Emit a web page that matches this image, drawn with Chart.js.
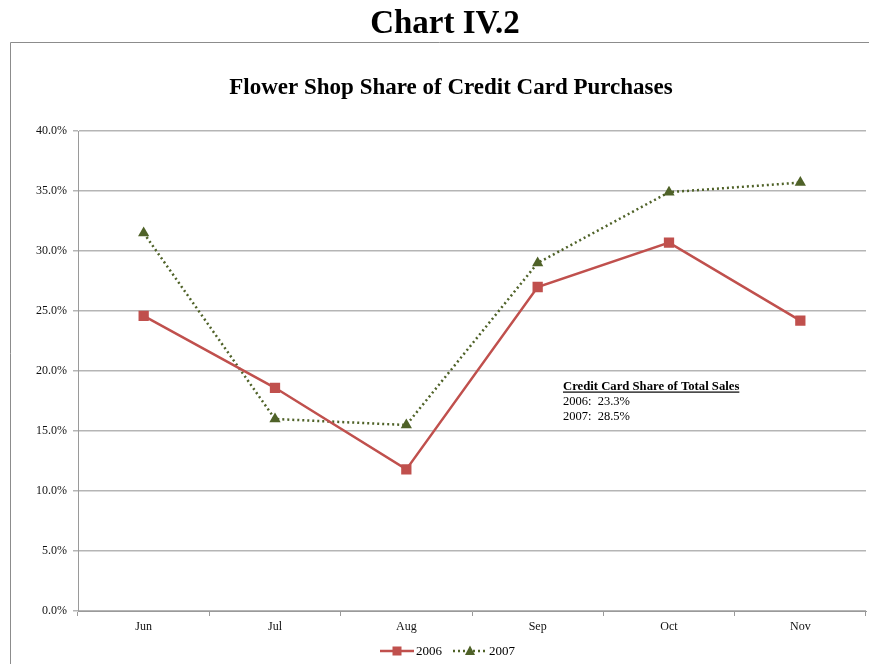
<!DOCTYPE html>
<html>
<head>
<meta charset="utf-8">
<script src="https://cdn.jsdelivr.net/npm/chart.js@4.4.1/dist/chart.umd.min.js"></script>
<style>
  html, body { margin: 0; padding: 0; background: #fff; overflow: hidden; }
  #wrap { position: relative; width: 869px; height: 664px; }
  canvas { display: block; }
</style>
</head>
<body>
<div id="wrap"><canvas id="c" width="869" height="664"></canvas></div>
<script>
// Monthly share of credit card purchases going to flower shops (%)
const months = ['Jun', 'Jul', 'Aug', 'Sep', 'Oct', 'Nov'];
const share2006 = [24.6, 18.6, 11.8, 27.0, 30.7, 24.2];
const share2007 = [31.5, 16.0, 15.5, 29.0, 34.9, 35.7];
const yTicks = [0, 5, 10, 15, 20, 25, 30, 35, 40];
const noteTitle = 'Credit Card Share of Total Sales';
const noteLines = ['2006:  23.3%', '2007:  28.5%'];

const SERIF = '"Liberation Serif", "Times New Roman", serif';
const RED = '#C0504D';
const OLIVE = '#4F6228';

// Page title, outer frame, note box and legend
const decor = {
  id: 'decor',
  afterDraw(chart) {
    const ctx = chart.ctx;
    ctx.save();
    // frame
    ctx.strokeStyle = '#8c8c8c';
    ctx.lineWidth = 1;
    ctx.beginPath();
    ctx.moveTo(10.5, 664);
    ctx.lineTo(10.5, 42.5);
    ctx.lineTo(869, 42.5);
    ctx.stroke();

    // titles
    ctx.fillStyle = '#000';
    ctx.textAlign = 'center';
    ctx.textBaseline = 'middle';
    ctx.font = 'bold 33px ' + SERIF;
    ctx.fillText('Chart IV.2', 445, 24);
    ctx.font = 'bold 23px ' + SERIF;
    ctx.fillText('Flower Shop Share of Credit Card Purchases', 451, 88);

    // note
    ctx.textAlign = 'left';
    ctx.textBaseline = 'alphabetic';
    ctx.font = 'bold 12.7px ' + SERIF;
    const nx = 563;
    ctx.fillText(noteTitle, nx, 390);
    const w = ctx.measureText(noteTitle).width;
    ctx.fillRect(nx, 391.5, w, 1.2);
    ctx.font = '12.5px ' + SERIF;
    noteLines.forEach((t, i) => ctx.fillText(t, nx, 405 + i * 15));

    // legend
    const ly = 651;
    const items = chart.data.datasets;
    let x = 380;
    ctx.font = '13px ' + SERIF;
    ctx.textBaseline = 'middle';
    items.forEach((ds) => {
      ctx.strokeStyle = ds.borderColor;
      ctx.lineWidth = ds.borderWidth;
      ctx.setLineDash(ds.borderDash || []);
      ctx.beginPath();
      ctx.moveTo(x, ly);
      ctx.lineTo(x + 34, ly);
      ctx.stroke();
      ctx.setLineDash([]);
      ctx.fillStyle = ds.pointBackgroundColor;
      const cx = x + 17;
      if (ds.pointStyle === 'rect') {
        ctx.fillRect(cx - 4.5, ly - 4.5, 9, 9);
      } else {
        ctx.beginPath();
        ctx.moveTo(cx, ly - 5.5);
        ctx.lineTo(cx + 5, ly + 4);
        ctx.lineTo(cx - 5, ly + 4);
        ctx.closePath();
        ctx.fill();
      }
      ctx.fillStyle = '#000';
      ctx.fillText(ds.label, x + 36, ly + 1);
      x += 36 + ctx.measureText(ds.label).width + 11;
    });
    ctx.restore();
  }
};

new Chart(document.getElementById('c'), {
  type: 'line',
  data: {
    labels: months,
    datasets: [
      {
        label: '2006',
        data: share2006,
        borderColor: RED,
        backgroundColor: RED,
        pointBackgroundColor: RED,
        pointBorderColor: RED,
        borderWidth: 2.5,
        pointStyle: 'rect',
        pointRadius: 5.5,
        tension: 0
      },
      {
        label: '2007',
        data: share2007,
        borderColor: OLIVE,
        backgroundColor: OLIVE,
        pointBackgroundColor: OLIVE,
        pointBorderColor: OLIVE,
        borderWidth: 2.5,
        borderDash: [2, 3],
        pointStyle: 'triangle',
        pointRadius: 6.5,
        pointBorderWidth: 0,
        tension: 0
      }
    ]
  },
  options: {
    responsive: false,
    animation: false,
    layout: { autoPadding: false, padding: { left: 10, right: 3, top: 131, bottom: 23 } },
    plugins: {
      legend: { display: false },
      title: { display: false },
      tooltip: { enabled: false }
    },
    scales: {
      x: {
        offset: true,
        afterFit(s) { s.height = 30; s.paddingLeft = 0; s.paddingRight = 0; },
        grid: {
          offset: true,
          drawOnChartArea: false,
          drawTicks: true,
          tickLength: 5,
          color: '#9a9a9a',
          lineWidth: 1
        },
        border: { display: true, color: '#9a9a9a', width: 1 },
        ticks: {
          color: '#111',
          font: { family: SERIF, size: 12 },
          padding: 4,
          maxRotation: 0
        }
      },
      y: {
        min: 0,
        max: 40,
        afterFit(s) { s.width = 68; },
        afterBuildTicks(s) { s.ticks = yTicks.map(v => ({ value: v })); },
        grid: {
          color: '#b5b5b5',
          lineWidth: 1.5,
          drawTicks: true,
          tickLength: 5
        },
        border: { display: true, color: '#9a9a9a', width: 1 },
        ticks: {
          color: '#111',
          font: { family: SERIF, size: 12 },
          padding: 6,
          callback: v => v.toFixed(1) + '%'
        }
      }
    }
  },
  plugins: [decor]
});
</script>
</body>
</html>
